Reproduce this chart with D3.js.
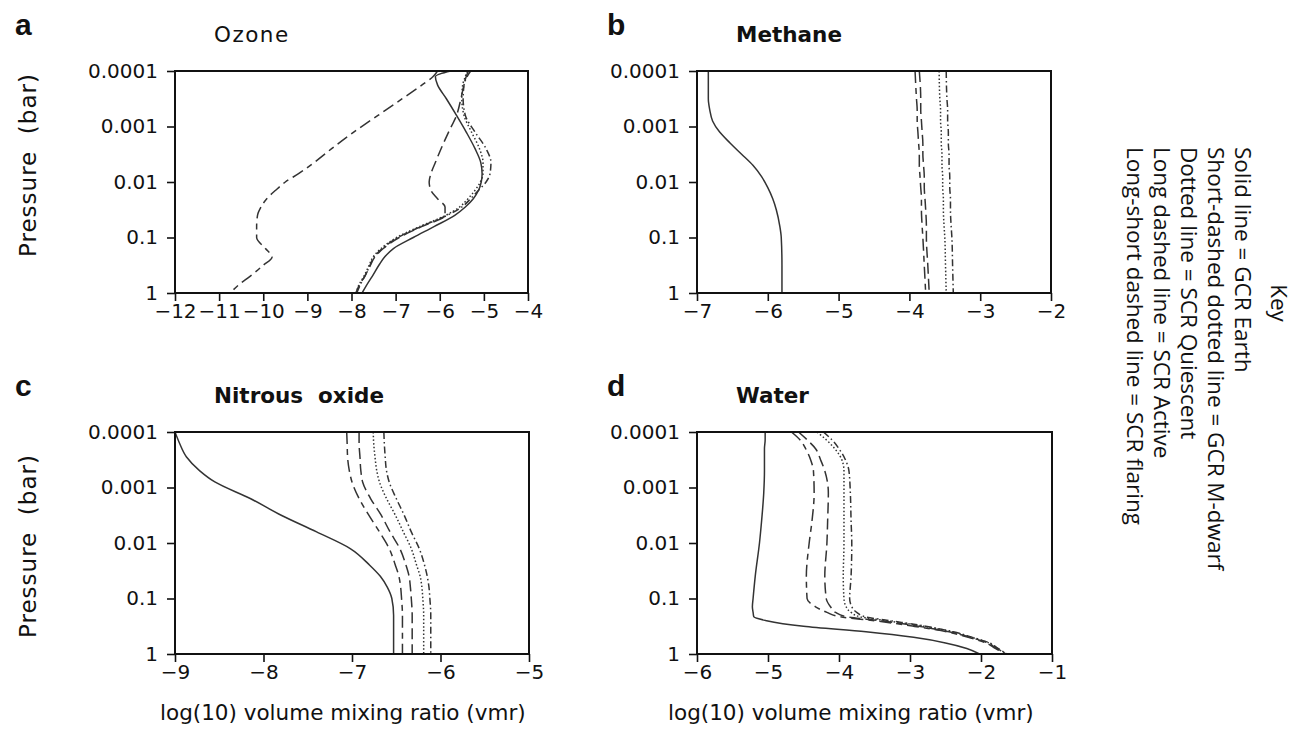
<!DOCTYPE html>
<html>
<head>
<meta charset="utf-8">
<script src="https://cdn.jsdelivr.net/npm/d3@7/dist/d3.min.js"></script>
<style>
  html, body { margin: 0; padding: 0; background: #fff; }
  svg text { fill: #111; }
</style>
</head>
<body>
<svg id="chart" width="1296" height="749"></svg>
<script>
/* chemistry profiles: log10 vmr against pressure (bar) */

// shared pressure ticks
var pressureTicks = [0.0001, 0.001, 0.01, 0.1, 1];
var pressureLabels = ["0.0001", "0.001", "0.01", "0.1", "1"];

// a) ozone
var ozoneP = [0.0001, 0.000126, 0.000178, 0.000316, 0.000631, 0.00126, 0.00251, 0.00447, 0.00708, 0.01, 0.0141,
              0.02, 0.0282, 0.0398, 0.0631, 0.1, 0.158, 0.224, 0.316, 0.501, 0.708, 1];
var ozoneEarth     = [-5.75, -6.1, -6.05, -5.85, -5.62, -5.4, -5.2, -5.07, -5.04, -5.06, -5.12,
                      -5.24, -5.42, -5.66, -6.12, -6.6, -7.05, -7.25, -7.38, -7.53, -7.65, -7.76];
var ozoneMdwarf    = [-5.3, -5.38, -5.45, -5.47, -5.42, -5.2, -4.95, -4.84, -4.86, -4.95, -5.12,
                      -5.3, -5.5, -5.83, -6.42, -6.95, -7.3, -7.49, -7.58, -7.7, -7.8, -7.88];
var ozoneQuiescent = [-5.38, -5.42, -5.48, -5.5, -5.45, -5.28, -5.1, -5.02, -5.02, -5.08, -5.2,
                      -5.36, -5.55, -5.86, -6.45, -6.98, -7.33, -7.51, -7.6, -7.72, -7.83, -7.9];
var ozoneActive    = [-5.35, -5.4, -5.45, -5.52, -5.62, -5.8, -5.97, -6.1, -6.2, -6.24, -6.2,
                      -6.05, -5.88, -5.88, -6.4, -6.92, -7.28, -7.47, -7.57, -7.7, -7.82, -7.9];
var ozoneFlaring   = [-6.05, -6.15, -6.4, -6.85, -7.4, -7.95, -8.45, -8.85, -9.2, -9.5, -9.72,
                      -9.92, -10.05, -10.13, -10.15, -10.15, -9.95, -9.8, -10.0, -10.3, -10.55, -10.75];
var ozoneTicks = [-12, -11, -10, -9, -8, -7, -6, -5, -4];

// b) methane
var methaneP = [0.0001, 0.000316, 0.000501, 0.000794, 0.00126, 0.002, 0.00316, 0.00501, 0.00794, 0.0126,
                0.02, 0.0316, 0.0631, 0.1, 0.316, 1];
var methaneEarth     = [-6.84, -6.84, -6.82, -6.78, -6.68, -6.53, -6.37, -6.21, -6.09, -6.0,
                        -5.93, -5.88, -5.83, -5.81, -5.8, -5.8];
var methaneMdwarf    = [-3.48, -3.47, -3.46, -3.46, -3.45, -3.45, -3.44, -3.44, -3.43, -3.43,
                        -3.42, -3.42, -3.41, -3.4, -3.39, -3.38];
var methaneQuiescent = [-3.58, -3.57, -3.56, -3.56, -3.55, -3.55, -3.54, -3.54, -3.53, -3.53,
                        -3.52, -3.52, -3.51, -3.5, -3.49, -3.48];
var methaneActive    = [-3.86, -3.84, -3.84, -3.83, -3.82, -3.81, -3.81, -3.8, -3.79, -3.79,
                        -3.78, -3.77, -3.76, -3.76, -3.74, -3.72];
var methaneFlaring   = [-3.92, -3.9, -3.89, -3.89, -3.88, -3.87, -3.86, -3.86, -3.85, -3.84,
                        -3.83, -3.83, -3.82, -3.81, -3.79, -3.77];
var methaneTicks = [-7, -6, -5, -4, -3, -2];

// c) nitrous oxide
var n2oP = [0.0001, 0.000158, 0.000282, 0.000501, 0.000794, 0.00158, 0.00316, 0.00631, 0.0126, 0.0251,
            0.0398, 0.0631, 0.1, 0.2, 0.398, 1];
var n2oEarth     = [-9.0, -8.95, -8.87, -8.72, -8.55, -8.15, -7.8, -7.4, -7.02, -6.8,
                    -6.68, -6.6, -6.55, -6.53, -6.53, -6.53];
var n2oMdwarf    = [-6.64, -6.635, -6.625, -6.61, -6.58, -6.5, -6.41, -6.33, -6.24, -6.18,
                    -6.15, -6.13, -6.12, -6.11, -6.11, -6.11];
var n2oQuiescent = [-6.76, -6.755, -6.74, -6.72, -6.69, -6.61, -6.51, -6.42, -6.33, -6.27,
                    -6.23, -6.21, -6.2, -6.19, -6.19, -6.19];
var n2oActive    = [-6.92, -6.92, -6.91, -6.9, -6.88, -6.79, -6.67, -6.57, -6.46, -6.39,
                    -6.355, -6.34, -6.33, -6.32, -6.32, -6.32];
var n2oFlaring   = [-7.06, -7.055, -7.05, -7.03, -7.0, -6.92, -6.81, -6.69, -6.58, -6.51,
                    -6.47, -6.45, -6.44, -6.43, -6.43, -6.43];
var n2oTicks = [-9, -8, -7, -6, -5];

// d) water
var waterP = [0.0001, 0.000138, 0.0002, 0.000316, 0.000501, 0.00126, 0.00398, 0.01, 0.0398, 0.1,
              0.141, 0.178, 0.214, 0.251, 0.316, 0.398, 0.501, 0.631, 0.794, 1];
var waterEarth     = [-5.04, -5.04, -5.05, -5.05, -5.05, -5.06, -5.09, -5.12, -5.18, -5.21,
                      -5.22, -5.21, -5.2, -5.02, -4.5, -3.62, -2.95, -2.5, -2.2, -2.02];
var waterMdwarf    = [-4.22, -4.1, -4.0, -3.91, -3.86, -3.84, -3.83, -3.82, -3.83, -3.85,
                      -3.82, -3.75, -3.63, -3.28, -2.78, -2.39, -2.12, -1.88, -1.76, -1.63];
var waterQuiescent = [-4.31, -4.18, -4.06, -3.96, -3.93, -3.93, -3.93, -3.93, -3.94, -3.93,
                      -3.9, -3.83, -3.7, -3.33, -2.81, -2.41, -2.13, -1.89, -1.77, -1.64];
var waterActive    = [-4.57, -4.45, -4.33, -4.26, -4.2, -4.15, -4.16, -4.17, -4.2, -4.18,
                      -4.12, -4.05, -3.89, -3.42, -2.88, -2.45, -2.15, -1.91, -1.78, -1.65];
var waterFlaring   = [-4.67, -4.55, -4.47, -4.4, -4.36, -4.35, -4.38, -4.42, -4.46, -4.45,
                      -4.33, -4.17, -3.98, -3.5, -2.95, -2.48, -2.18, -1.93, -1.8, -1.66];
var waterTicks = [-6, -5, -4, -3, -2, -1];

// legend
var keyTitle = "Key";
var keyLines = [
  "Solid line = GCR Earth",
  "Short-dashed dotted line = GCR M-dwarf",
  "Dotted line = SCR Quiescent",
  "Long dashed line = SCR Active",
  "Long-short dashed line = SCR flaring"
];

var seriesNames = ["earth", "mdwarf", "quiescent", "active", "flaring"];
var dashFor = {
  earth: null,
  mdwarf: "7,3,1.5,3",
  quiescent: "1.5,2.2",
  active: "11,5",
  flaring: "12,5,6,5"
};

var LINE_COLOR = "#333";
var TICK_FONT = "'DejaVu Sans', sans-serif";

var panels = [
  { letter: "a", title: "Ozone", bold: false, x0: 175, x1: 528, y0: 71, y1: 293,
    domain: [-12, -4], ticks: ozoneTicks, p: ozoneP,
    series: { earth: ozoneEarth, mdwarf: ozoneMdwarf, quiescent: ozoneQuiescent, active: ozoneActive, flaring: ozoneFlaring } },
  { letter: "b", title: "Methane", bold: true, x0: 697, x1: 1051, y0: 71, y1: 293,
    domain: [-7, -2], ticks: methaneTicks, p: methaneP,
    series: { earth: methaneEarth, mdwarf: methaneMdwarf, quiescent: methaneQuiescent, active: methaneActive, flaring: methaneFlaring } },
  { letter: "c", title: "Nitrous  oxide", bold: true, x0: 175, x1: 529, y0: 432, y1: 654,
    domain: [-9, -5], ticks: n2oTicks, p: n2oP,
    series: { earth: n2oEarth, mdwarf: n2oMdwarf, quiescent: n2oQuiescent, active: n2oActive, flaring: n2oFlaring } },
  { letter: "d", title: "Water", bold: true, x0: 697, x1: 1052, y0: 432, y1: 654,
    domain: [-6, -1], ticks: waterTicks, p: waterP,
    series: { earth: waterEarth, mdwarf: waterMdwarf, quiescent: waterQuiescent, active: waterActive, flaring: waterFlaring } }
];

var svg = d3.select("#chart");

function minusFormat(v) {
  return (v < 0 ? "\u2212" : "") + Math.abs(v);
}

function drawPanel(cfg, idx) {
  var x = d3.scaleLinear().domain(cfg.domain).range([cfg.x0, cfg.x1]);
  var y = d3.scaleLog().domain([0.0001, 1]).range([cfg.y0, cfg.y1]);

  var g = svg.append("g").attr("class", "panel panel-" + cfg.letter);

  // clip so the curves never leave the frame
  var clipId = "clip-" + cfg.letter;
  g.append("clipPath").attr("id", clipId)
    .append("rect")
    .attr("x", cfg.x0).attr("y", cfg.y0)
    .attr("width", cfg.x1 - cfg.x0).attr("height", cfg.y1 - cfg.y0);

  var line = d3.line()
    .x(function(d) { return x(d[0]); })
    .y(function(d) { return y(d[1]); })
    .curve(d3.curveMonotoneY);

  var curves = g.append("g").attr("clip-path", "url(#" + clipId + ")");
  seriesNames.forEach(function(name) {
    var vals = cfg.series[name];
    var pts = vals.map(function(v, i) { return [v, cfg.p[i]]; });
    curves.append("path")
      .attr("d", line(pts))
      .attr("fill", "none")
      .attr("stroke", LINE_COLOR)
      .attr("stroke-width", 1.5)
      .attr("stroke-dasharray", dashFor[name]);
  });

  // axes
  var yAxis = d3.axisLeft(y)
    .tickValues(pressureTicks)
    .tickFormat(function(d, i) { return pressureLabels[i]; })
    .tickSize(8)
    .tickPadding(9);
  var xAxis = d3.axisBottom(x)
    .tickValues(cfg.ticks)
    .tickFormat(minusFormat)
    .tickSize(8)
    .tickPadding(3);

  var ya = g.append("g").attr("transform", "translate(" + cfg.x0 + ",0)").call(yAxis);
  var xa = g.append("g").attr("transform", "translate(0," + cfg.y1 + ")").call(xAxis);
  [ya, xa].forEach(function(a) {
    a.select(".domain").remove();
    a.selectAll(".tick line").attr("stroke", "#111").attr("stroke-width", 1.6);
    a.selectAll(".tick text")
      .attr("fill", "#111")
      .style("font-family", TICK_FONT)
      .style("font-size", "20px");
  });

  // frame
  g.append("rect")
    .attr("x", cfg.x0).attr("y", cfg.y0)
    .attr("width", cfg.x1 - cfg.x0).attr("height", cfg.y1 - cfg.y0)
    .attr("fill", "none")
    .attr("stroke", "#111")
    .attr("stroke-width", 2);

  // panel letter + title
  g.append("text")
    .attr("x", cfg.x0 - (idx % 2 === 0 ? 160 : 90))
    .attr("y", cfg.y0 - 36)
    .style("font-family", "'Liberation Sans', Arial, sans-serif")
    .style("font-weight", "bold")
    .style("font-size", "30px")
    .text(cfg.letter);

  g.append("text")
    .attr("x", cfg.x0 + 39)
    .attr("y", cfg.y0 - 29)
    .attr("xml:space", "preserve")
    .style("white-space", "pre")
    .style("font-family", TICK_FONT)
    .style("font-weight", cfg.bold ? "bold" : "normal")
    .style("font-size", "21.5px")
    .style("letter-spacing", cfg.bold ? "0px" : "1.5px")
    .text(cfg.title);

  // y-axis title only on the left column
  if (idx % 2 === 0) {
    var cy = idx === 0 ? 165 : 546;
    g.append("text")
      .attr("transform", "translate(36," + cy + ") rotate(-90)")
      .attr("text-anchor", "middle")
      .attr("xml:space", "preserve")
      .style("white-space", "pre")
      .style("font-family", TICK_FONT)
      .style("font-size", "23px")
      .style("letter-spacing", "1px")
      .text("Pressure  (bar)");
  }

  // x-axis title only on the bottom row
  if (idx >= 2) {
    g.append("text")
      .attr("x", idx === 2 ? 160 : 668)
      .attr("y", 720)
      .style("font-family", TICK_FONT)
      .style("font-size", "21.5px")
      .text("log(10) volume mixing ratio (vmr)");
  }
}

panels.forEach(drawPanel);

// key, written sideways down the right edge
function drawKey() {
  var kg = svg.append("g").attr("class", "key")
    .style("font-family", "'Open Sans', 'Noto Sans', sans-serif")
    .style("font-size", "22.5px");

  kg.append("text")
    .attr("transform", "translate(1271,303) rotate(90)")
    .attr("text-anchor", "middle")
    .text(keyTitle);

  keyLines.forEach(function(t, i) {
    kg.append("text")
      .attr("transform", "translate(" + (1235 - i * 27) + ",147) rotate(90)")
      .text(t);
  });
}
drawKey();
</script>
</body>
</html>
